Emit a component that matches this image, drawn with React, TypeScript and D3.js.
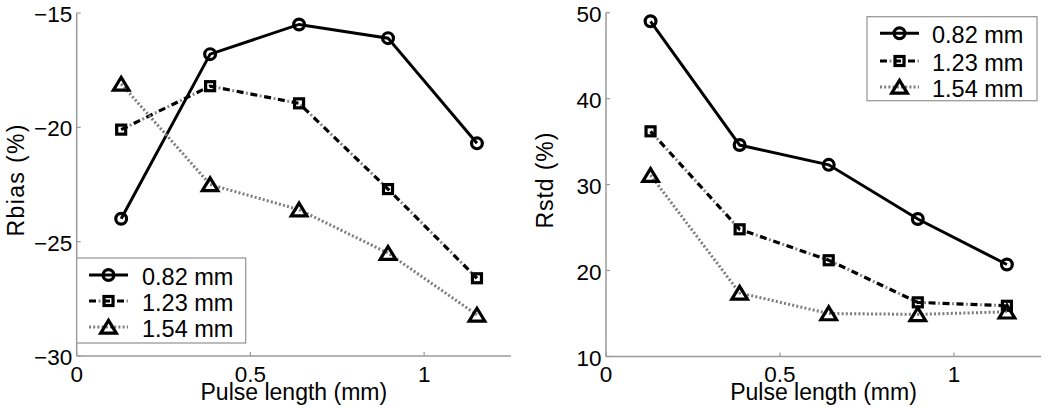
import React from "react";
import * as d3 from "d3";

const pulseLengths = [0.128, 0.384, 0.64, 0.896, 1.152];
const seriesNames = ["0.82 mm", "1.23 mm", "1.54 mm"];
const rbias082 = [-24.0, -16.8, -15.5, -16.1, -20.7];
const rbias123 = [-20.1, -18.2, -18.95, -22.7, -26.6];
const rbias154 = [-18.1, -22.5, -23.6, -25.5, -28.2];
const rstd082 = [49.0, 34.6, 32.3, 26.0, 20.7];
const rstd123 = [36.2, 24.8, 21.2, 16.3, 15.9];
const rstd154 = [31.1, 17.4, 15.0, 14.9, 15.2];
const xTicks = [0, 0.5, 1];
const rbiasTicks = [-15, -20, -25, -30];
const rstdTicks = [10, 20, 30, 40, 50];

const FONT = "'Liberation Sans', Arial, Helvetica, sans-serif";
const AXIS = "#9a9a9a";

type Style = "solid" | "dashdot" | "dotted";
const styles: Style[] = ["solid", "dashdot", "dotted"];
const markers = ["circle", "square", "triangle"];

function Marker({ kind, x, y }: { kind: string; x: number; y: number }) {
  const common = { fill: "none", stroke: "#000", strokeWidth: 3.2 };
  if (kind === "circle") return <circle cx={x} cy={y} r={5.4} {...common} />;
  if (kind === "square")
    return <rect x={x - 4.5} y={y - 4.5} width={9} height={9} {...common} />;
  return (
    <path
      d={`M${x},${y - 6.6}L${x + 7.8},${y + 6.2}L${x - 7.8},${y + 6.2}Z`}
      {...common}
      strokeLinejoin="miter"
    />
  );
}

function StyledLine({ d, style }: { d: string; style: Style }) {
  if (style === "solid")
    return <path d={d} fill="none" stroke="#000" strokeWidth={3} />;
  if (style === "dashdot")
    return (
      <g>
        <path d={d} fill="none" stroke="#000" strokeWidth={3.2} strokeDasharray="7,7" />
        <path
          d={d}
          fill="none"
          stroke="#8a8a8a"
          strokeWidth={3}
          strokeDasharray="2,12"
          strokeDashoffset={-9.5}
        />
      </g>
    );
  return (
    <path d={d} fill="none" stroke="#7d7d7d" strokeWidth={3} strokeDasharray="2,2.2" />
  );
}

type PanelProps = {
  x0: number;
  x1: number;
  yTop: number;
  yBot: number;
  yDomain: [number, number];
  yTicks: number[];
  data: number[][];
  ylabel: string;
  ylabelX: number;
  ylabelLen: number;
  legend: { x0: number; x1: number; y0: number; y1: number; rows: number[]; lx0: number; lx1: number; tx: number };
};

function Panel(p: PanelProps) {
  const xs = d3.scaleLinear().domain([0, 1.25]).range([p.x0, p.x1]);
  const ys = d3.scaleLinear().domain(p.yDomain).range([p.yBot, p.yTop]);
  const line = d3
    .line<number>()
    .x((_, i) => xs(pulseLengths[i]))
    .y((v) => ys(v));
  const fmt = (v: number) => (v < 0 ? "\u2212" + Math.abs(v) : String(v));
  const L = p.legend;
  return (
    <g>
      <line x1={p.x0} x2={p.x0} y1={p.yTop} y2={p.yBot} stroke={AXIS} strokeWidth={1.5} />
      <line x1={p.x0} x2={p.x1} y1={p.yBot} y2={p.yBot} stroke={AXIS} strokeWidth={1.5} />
      {p.yTicks.map((t) => (
        <g key={"y" + t}>
          <line x1={p.x0} x2={p.x0 + 4} y1={ys(t)} y2={ys(t)} stroke={AXIS} strokeWidth={1.2} />
          <text
            x={p.x0 - 4.5}
            y={ys(t) + 1.5}
            textAnchor="end"
            dominantBaseline="central"
            fontSize={22.5}
            fontFamily={FONT}
            fill="#000"
          >
            {fmt(t)}
          </text>
        </g>
      ))}
      {xTicks.map((t) => (
        <g key={"x" + t}>
          <line x1={xs(t)} x2={xs(t)} y1={p.yBot} y2={p.yBot - 4} stroke={AXIS} strokeWidth={1.2} />
          <text
            x={xs(t)}
            y={382}
            textAnchor="middle"
            fontSize={22.5}
            fontFamily={FONT}
            fill="#000"
          >
            {String(t)}
          </text>
        </g>
      ))}
      <text
        x={(p.x0 + p.x1) / 2}
        y={399.5}
        textAnchor="middle"
        fontSize={23}
        fontFamily={FONT}
        fill="#000"
      >
        Pulse length (mm)
      </text>
      <text
        transform={`translate(${p.ylabelX},${(p.yTop + p.yBot) / 2 - 4}) rotate(-90)`}
        textAnchor="middle"
        fontSize={23}
        fontFamily={FONT}
        fill="#000"
        textLength={p.ylabelLen}
        lengthAdjust="spacing"
      >
        {p.ylabel}
      </text>
      {p.data.map((vals, si) => (
        <g key={"s" + si}>
          <StyledLine d={line(vals) || ""} style={styles[si]} />
          {vals.map((v, i) => (
            <Marker key={i} kind={markers[si]} x={xs(pulseLengths[i])} y={ys(v)} />
          ))}
        </g>
      ))}
      <rect
        x={L.x0}
        y={L.y0}
        width={L.x1 - L.x0}
        height={L.y1 - L.y0}
        fill="#fff"
        stroke={AXIS}
        strokeWidth={1.3}
      />
      {seriesNames.map((name, si) => {
        const ry = L.rows[si];
        return (
          <g key={"l" + si}>
            <StyledLine d={`M${L.lx0},${ry}L${L.lx1},${ry}`} style={styles[si]} />
            <Marker kind={markers[si]} x={(L.lx0 + L.lx1) / 2} y={ry} />
            <text
              x={L.tx}
              y={ry + 1.5}
              dominantBaseline="central"
              fontSize={23.5}
              fontFamily={FONT}
              fill="#000"
            >
              {name}
            </text>
          </g>
        );
      })}
    </g>
  );
}

export default function App() {
  return (
    <svg
      width={1050}
      height={408}
      style={{ position: "absolute", left: 0, top: 0, background: "#fff" }}
    >
      <rect width={1050} height={408} fill="#fff" />
      <Panel
        x0={76.7}
        x1={511}
        yTop={13}
        yBot={356}
        yDomain={[-30, -15]}
        yTicks={rbiasTicks}
        data={[rbias082, rbias123, rbias154]}
        ylabel="Rbias (%)"
        ylabelX={24}
        ylabelLen={112}
        legend={{ x0: 76.7, x1: 245.7, y0: 258, y1: 343, rows: [275, 301, 327], lx0: 89, lx1: 128, tx: 142 }}
      />
      <Panel
        x0={606}
        x1={1041}
        yTop={12.7}
        yBot={356.5}
        yDomain={[10, 50]}
        yTicks={rstdTicks}
        data={[rstd082, rstd123, rstd154]}
        ylabel="Rstd (%)"
        ylabelX={553}
        ylabelLen={96}
        legend={{ x0: 867, x1: 1037, y0: 16.7, y1: 100.7, rows: [33.3, 61, 87], lx0: 880, lx1: 919, tx: 932 }}
      />
    </svg>
  );
}
